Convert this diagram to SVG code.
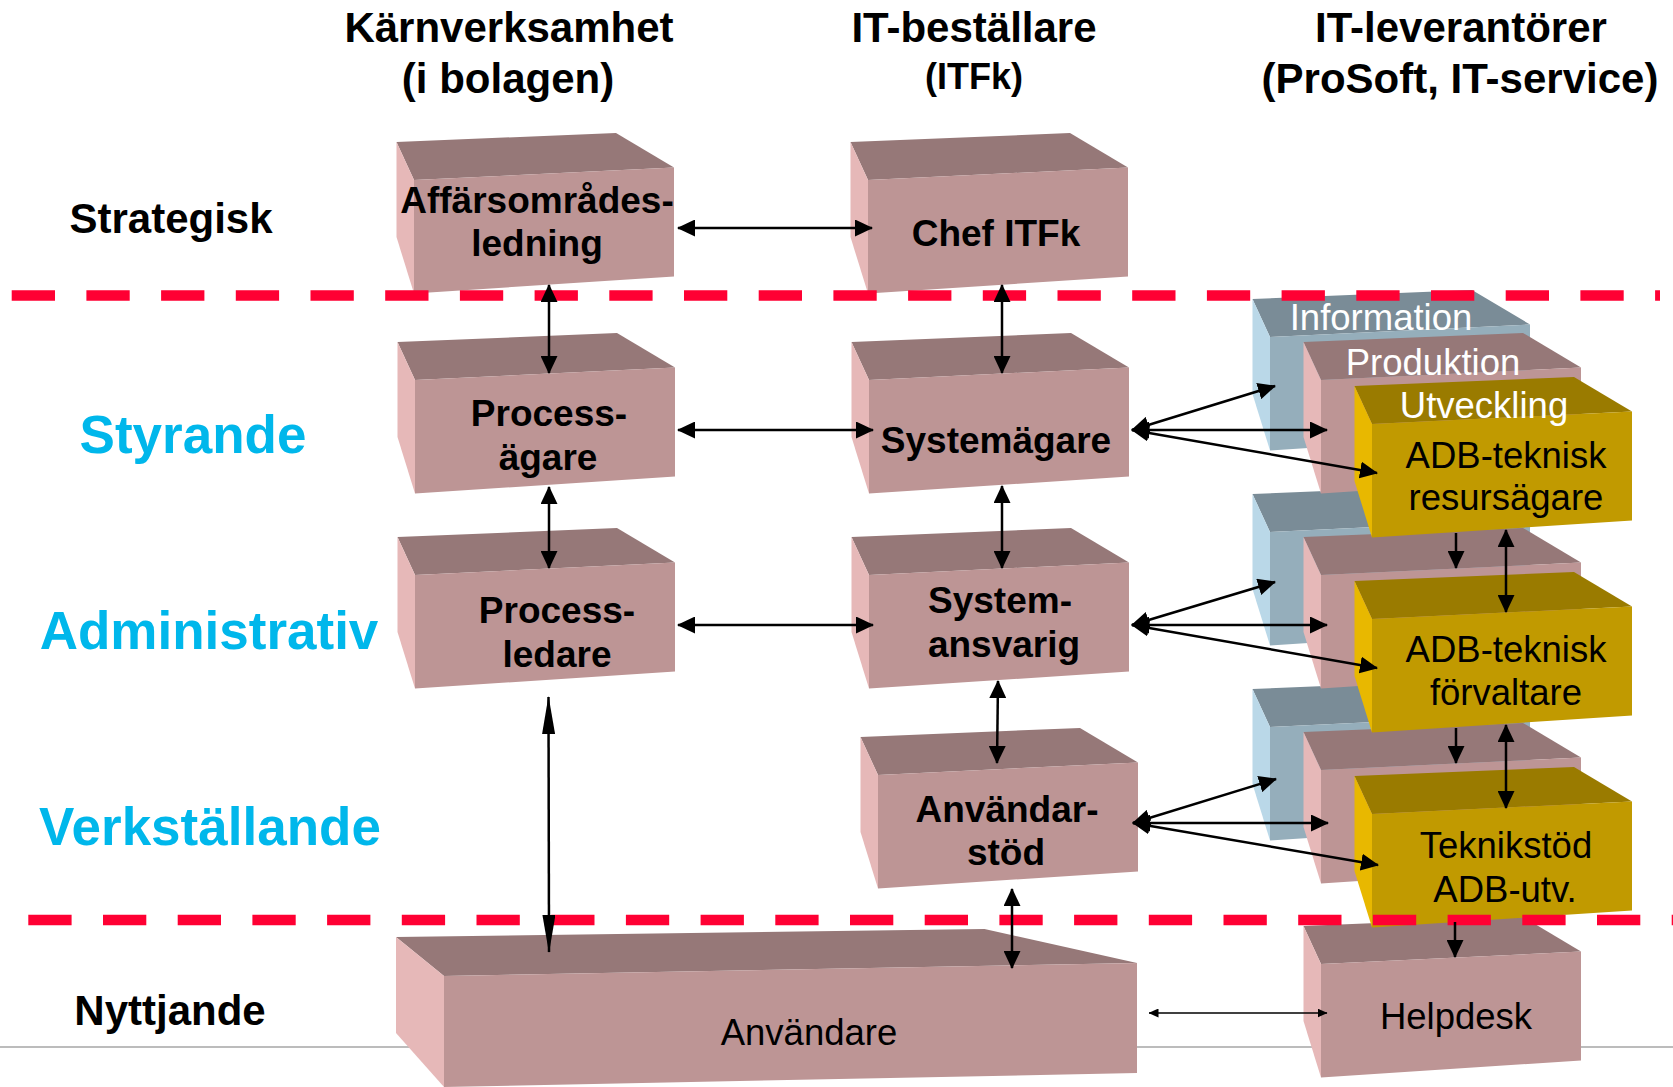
<svg xmlns="http://www.w3.org/2000/svg" xmlns:xlink="http://www.w3.org/1999/xlink" width="1673" height="1087" viewBox="0 0 1673 1087">
  <style>
    .hdr { font-family: "Liberation Sans", Arial, sans-serif; font-weight: bold; fill: #000; text-anchor: middle; }
    .lvl { font-family: "Liberation Sans", Arial, sans-serif; font-weight: bold; text-anchor: middle; }
    .lvl-b { fill: #000; font-size: 42px; }
    .lvl-c { fill: #00B7EB; font-size: 53px; }
    .nb { font-family: "Liberation Sans", Arial, sans-serif; font-weight: bold; font-size: 37px; fill: #000; text-anchor: middle; }
    .nr { font-family: "Liberation Sans", Arial, sans-serif; font-size: 36.5px; fill: #000; text-anchor: middle; }
    .nw { font-family: "Liberation Sans", Arial, sans-serif; font-size: 36.5px; fill: #fff; text-anchor: middle; }
    .p-top { fill: #967878; } .p-front { fill: #BD9595; } .p-side { fill: #E6B8B8; }
    .b-top { fill: #7A8C97; } .b-front { fill: #95AEBB; } .b-side { fill: #BAD8E8; }
    .g-top { fill: #9A7B00; } .g-front { fill: #C19A00; } .g-side { fill: #E8B800; }
    .sep { fill: none; stroke: #FF0033; stroke-width: 10.5; stroke-dasharray: 43.3 31.4; }
    .conn line { stroke: #000; stroke-width: 2.5; fill: none; }
    .dbl { marker-start: url(#ah); marker-end: url(#ah); }
    .one { marker-end: url(#ah); }
  </style>
  <defs>
    <marker id="ah" viewBox="0 0 18 17" markerWidth="18" markerHeight="17" refX="17" refY="8.5" orient="auto-start-reverse" markerUnits="userSpaceOnUse">
      <path d="M0,0 L18,8.5 L0,17 Z" fill="#000"/>
    </marker>
    <marker id="ahLong" viewBox="0 0 38 13" markerWidth="38" markerHeight="13" refX="37" refY="6.5" orient="auto-start-reverse" markerUnits="userSpaceOnUse">
      <path d="M0,0 L38,6.5 L0,13 Z" fill="#000"/>
    </marker>
    <marker id="ahThin" viewBox="0 0 10 9" markerWidth="10" markerHeight="9" refX="9.5" refY="4.5" orient="auto-start-reverse" markerUnits="userSpaceOnUse">
      <path d="M0,0 L10,4.5 L0,9 Z" fill="#000"/>
    </marker>
    <!-- 3D block, origin at the front face's top-left corner -->
    <g id="boxPink">
      <polygon class="p-top" points="-17.5,-38 202,-47 260,-12.5 0,0"/>
      <polygon class="p-side" points="-17.5,-38 0,0 0,113.5 -17.5,57"/>
      <polygon class="p-front" points="0,0 260,-12.5 260,96.5 0,113.5"/>
    </g>
    <g id="boxBlue">
      <polygon class="b-top" points="-17.5,-38 202,-47 260,-12.5 0,0"/>
      <polygon class="b-side" points="-17.5,-38 0,0 0,113.5 -17.5,57"/>
      <polygon class="b-front" points="0,0 260,-12.5 260,96.5 0,113.5"/>
    </g>
    <g id="boxGold">
      <polygon class="g-top" points="-17.5,-38 202,-47 260,-12.5 0,0"/>
      <polygon class="g-side" points="-17.5,-38 0,0 0,113.5 -17.5,57"/>
      <polygon class="g-front" points="0,0 260,-12.5 260,96.5 0,113.5"/>
    </g>
  </defs>

  <rect width="1673" height="1087" fill="#fff"/>

  <!-- thin baseline behind the blocks -->
  <line x1="0" y1="1047" x2="1673" y2="1047" stroke="#A6A6A6" stroke-width="1.5"/>

  <!-- column headings -->
  <g id="headings">
    <text class="hdr" x="509" y="42" font-size="42">Kärnverksamhet</text>
    <text class="hdr" x="508" y="93" font-size="42">(i bolagen)</text>
    <text class="hdr" x="974" y="42" font-size="42">IT-beställare</text>
    <text class="hdr" x="974" y="89" font-size="36">(ITFk)</text>
    <text class="hdr" x="1461" y="42" font-size="42">IT-leverantörer</text>
    <text class="hdr" x="1460" y="93" font-size="42">(ProSoft, IT-service)</text>
  </g>

  <!-- level labels -->
  <g id="levels">
    <text class="lvl lvl-b" x="171" y="233">Strategisk</text>
    <text class="lvl lvl-c" x="193" y="453">Styrande</text>
    <text class="lvl lvl-c" x="209" y="649">Administrativ</text>
    <text class="lvl lvl-c" x="210" y="845">Verkställande</text>
    <text class="lvl lvl-b" x="170" y="1025">Nyttjande</text>
  </g>

  <!-- core business column -->
  <g id="affarsomradesledning">
    <use xlink:href="#boxPink" x="414" y="180"/>
    <text class="nb" x="537" y="213">Affärsområdes-</text>
    <text class="nb" x="537" y="256">ledning</text>
  </g>
  <g id="processagare">
    <use xlink:href="#boxPink" x="415" y="380"/>
    <text class="nb" x="549" y="426">Process-</text>
    <text class="nb" x="548" y="470">ägare</text>
  </g>
  <g id="processledare">
    <use xlink:href="#boxPink" x="415" y="575"/>
    <text class="nb" x="557" y="623">Process-</text>
    <text class="nb" x="557" y="667">ledare</text>
  </g>

  <!-- IT orderer column -->
  <g id="chef-itfk">
    <use xlink:href="#boxPink" x="868" y="180"/>
    <text class="nb" x="996" y="246">Chef ITFk</text>
  </g>
  <g id="systemagare">
    <use xlink:href="#boxPink" x="869" y="380"/>
    <text class="nb" x="996" y="453">Systemägare</text>
  </g>
  <g id="systemansvarig">
    <use xlink:href="#boxPink" x="869" y="575"/>
    <text class="nb" x="1000" y="613">System-</text>
    <text class="nb" x="1004" y="657">ansvarig</text>
  </g>
  <g id="anvandarstod">
    <use xlink:href="#boxPink" x="878" y="775"/>
    <text class="nb" x="1007" y="822">Användar-</text>
    <text class="nb" x="1006" y="865">stöd</text>
  </g>

  <!-- users block -->
  <g id="anvandare">
    <polygon class="p-top" points="396,937 984.5,929 1137,963 444,976"/>
    <polygon class="p-side" points="396,937 444,976 444,1087 396,1033"/>
    <polygon class="p-front" points="444,976 1137,963 1137,1073 444,1087"/>
    <text class="nr" x="809" y="1045">Användare</text>
  </g>

  <!-- supplier column: information / production / development layers -->
  <g id="information-1"><use xlink:href="#boxBlue" x="1270" y="337"/><text class="nw" x="1381" y="330">Information</text></g>
  <g id="information-2"><use xlink:href="#boxBlue" x="1270" y="532"/></g>
  <g id="information-3"><use xlink:href="#boxBlue" x="1270" y="727"/></g>
  <g id="produktion-1"><use xlink:href="#boxPink" x="1321" y="380"/><text class="nw" x="1433" y="375">Produktion</text></g>
  <g id="produktion-2"><use xlink:href="#boxPink" x="1321" y="575"/></g>
  <g id="produktion-3"><use xlink:href="#boxPink" x="1321" y="770"/></g>
  <g id="helpdesk">
    <use xlink:href="#boxPink" x="1321" y="964"/>
    <text class="nr" x="1456" y="1029">Helpdesk</text>
  </g>
  <g id="adb-resursagare">
    <use xlink:href="#boxGold" x="1372" y="424"/>
    <text class="nw" x="1484" y="418">Utveckling</text>
    <text class="nr" x="1506" y="468">ADB-teknisk</text>
    <text class="nr" x="1506" y="510">resursägare</text>
  </g>
  <g id="adb-forvaltare">
    <use xlink:href="#boxGold" x="1372" y="619"/>
    <text class="nr" x="1506" y="662">ADB-teknisk</text>
    <text class="nr" x="1506" y="705">förvaltare</text>
  </g>
  <g id="teknikstod">
    <use xlink:href="#boxGold" x="1372" y="814"/>
    <text class="nr" x="1506" y="858">Teknikstöd</text>
    <text class="nr" x="1505" y="902">ADB-utv.</text>
  </g>

  <!-- level separators -->
  <g id="separators">
    <line class="sep" x1="11.7" y1="295.5" x2="1660" y2="295.5"/>
    <line class="sep" x1="28.3" y1="920" x2="1673" y2="920"/>
  </g>

  <!-- connectors -->
  <g id="connectors" class="conn">
    <line class="dbl" x1="678" y1="228" x2="872" y2="228"/>
    <line class="dbl" x1="678" y1="430" x2="873" y2="430"/>
    <line class="dbl" x1="678" y1="625" x2="873" y2="625"/>

    <line class="dbl" x1="549" y1="285" x2="549" y2="373"/>
    <line class="dbl" x1="1002" y1="285" x2="1002" y2="373"/>
    <line class="dbl" x1="549" y1="487" x2="549" y2="568"/>
    <line class="dbl" x1="1002" y1="486" x2="1002" y2="568"/>
    <line class="dbl" x1="998" y1="681" x2="997" y2="763"/>
    <line class="dbl" x1="1012" y1="889" x2="1012" y2="968"/>
    <line x1="548.5" y1="697" x2="549" y2="952" marker-start="url(#ahLong)" marker-end="url(#ahLong)"/>

    <line class="dbl" x1="1132" y1="430" x2="1275" y2="386"/>
    <line class="dbl" x1="1132" y1="430" x2="1327" y2="430"/>
    <line class="dbl" x1="1132" y1="430" x2="1377" y2="473"/>
    <line class="dbl" x1="1132" y1="625" x2="1275" y2="582"/>
    <line class="dbl" x1="1132" y1="625" x2="1327" y2="625"/>
    <line class="dbl" x1="1132" y1="625" x2="1377" y2="668"/>
    <line class="dbl" x1="1133" y1="823" x2="1276" y2="779"/>
    <line class="dbl" x1="1133" y1="823" x2="1328" y2="823"/>
    <line class="dbl" x1="1133" y1="823" x2="1378" y2="865"/>

    <line class="one" x1="1456" y1="533" x2="1456" y2="568"/>
    <line class="one" x1="1456" y1="728" x2="1456" y2="763"/>
    <line class="one" x1="1455" y1="922" x2="1455" y2="957"/>
    <line class="dbl" x1="1506" y1="530" x2="1506" y2="612"/>
    <line class="dbl" x1="1506" y1="725" x2="1506" y2="808"/>

    <line x1="1149" y1="1013" x2="1327" y2="1013" style="stroke-width:1.5" marker-start="url(#ahThin)" marker-end="url(#ahThin)"/>
  </g>
</svg>
